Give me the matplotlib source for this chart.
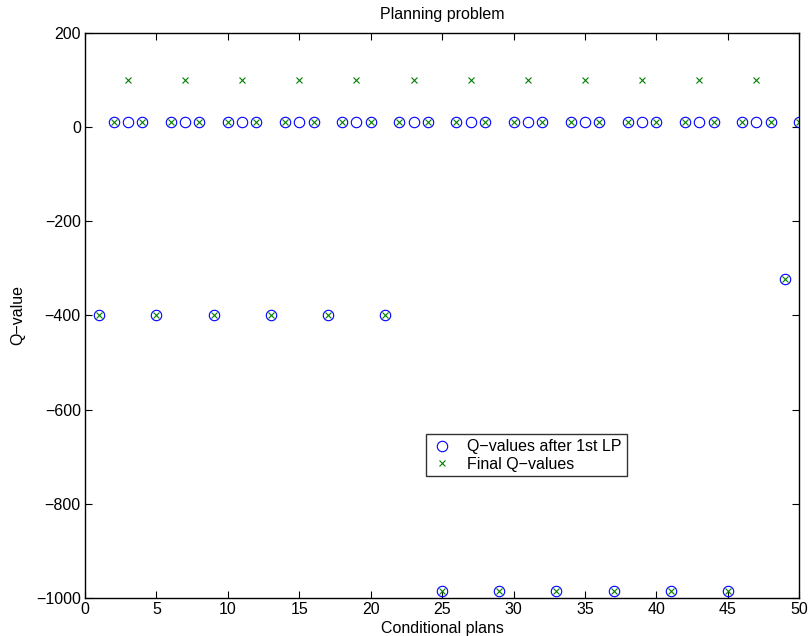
import numpy as np
import matplotlib.pyplot as plt

plt.rcParams['font.family'] = ['Liberation Sans', 'DejaVu Sans']

plans = np.arange(1, 51)

# Q-values after first LP (circles)
q_first = [-400, 10, 10, 10, -400, 10, 10, 10, -400, 10,
           10, 10, -400, 10, 10, 10, -400, 10, 10, 10,
           -400, 10, 10, 10, -985, 10, 10, 10, -985, 10,
           10, 10, -985, 10, 10, 10, -985, 10, 10, 10,
           -985, 10, 10, 10, -985, 10, 10, 10, -322, 10]

# Final Q-values (crosses)
q_final = [-400, 10, 100, 10, -400, 10, 100, 10, -400, 10,
           100, 10, -400, 10, 100, 10, -400, 10, 100, 10,
           -400, 10, 100, 10, -985, 10, 100, 10, -985, 10,
           100, 10, -985, 10, 100, 10, -985, 10, 100, 10,
           -985, 10, 100, 10, -985, 10, 100, 10, -322, 10]

fs = 11.5

fig = plt.figure(figsize=(8.09, 6.36), dpi=100)
ax = fig.add_axes([0.105, 0.0597, 0.883, 0.889])

ax.plot(plans, q_first, linestyle="none", marker="o", markersize=7.5,
        markerfacecolor="none", markeredgecolor="blue", markeredgewidth=0.8,
        label="Q\u2212values after 1st LP")
ax.plot(plans, q_final, linestyle="none", marker="x", markersize=5,
        color=(0, 0.5, 0), markeredgewidth=0.8, label="Final Q\u2212values")

ax.set_xlim(0, 50)
ax.set_ylim(-1000, 200)
ax.set_xticks(range(0, 51, 5))
ax.set_yticks(range(-1000, 201, 200))
ax.set_yticklabels([str(v).replace("-", "\u2212") for v in range(-1000, 201, 200)])
ax.tick_params(direction="in", top=True, right=True, labelsize=fs, length=5, pad=3)
for s in ax.spines.values():
    s.set_linewidth(1.0)

ax.set_xlabel("Conditional plans", fontsize=fs, labelpad=3)
ax.set_ylabel("Q\u2212value", fontsize=fs, labelpad=8)
ax.set_title("Planning problem", fontsize=fs, pad=10)

leg = ax.legend(loc="lower left", bbox_to_anchor=(0.477, 0.215), fontsize=fs,
                frameon=True, fancybox=False, handlelength=1.5,
                borderpad=0.3, labelspacing=0.15, handletextpad=0.8,
                borderaxespad=0)
leg.get_frame().set_edgecolor("black")
leg.get_frame().set_linewidth(1.0)

fig.savefig("out.png", dpi=100)
